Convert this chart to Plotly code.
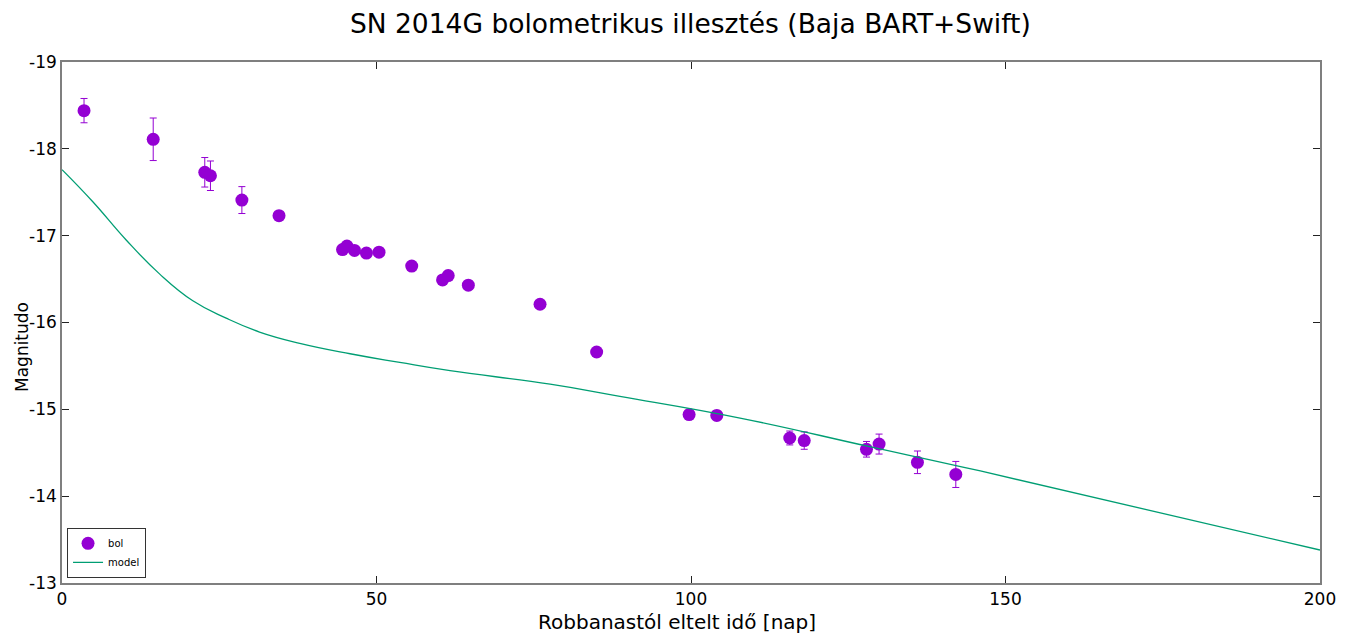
import plotly.graph_objects as go

# Observed bolometric magnitudes
days = [3.5, 14.5, 22.7, 23.6, 28.6, 34.5, 44.6, 45.3, 46.5, 48.4, 50.4, 55.6,
        60.5, 61.4, 64.6, 76.0, 85.0, 99.7, 104.1, 115.7, 118.0, 127.9, 129.9,
        136.0, 142.1]
mag = [-18.44, -18.11, -17.73, -17.69, -17.41, -17.23, -16.84, -16.88, -16.83,
       -16.80, -16.81, -16.65, -16.49, -16.54, -16.43, -16.21, -15.66, -14.94,
       -14.93, -14.67, -14.64, -14.54, -14.60, -14.39, -14.25]
mag_err = [0.14, 0.245, 0.17, 0.17, 0.155, 0.04, 0.04, 0.04, 0.04, 0.04, 0.04,
           0.04, 0.04, 0.04, 0.04, 0.04, 0.04, 0.05, 0.05, 0.08, 0.10, 0.09,
           0.115, 0.13, 0.15]

# Model curve
model_days = [0, 4.9, 10.2, 15.5, 20.8, 26.1, 31.4, 37.8, 45.8, 53.7, 61.7,
              77.6, 88.7, 107.8, 128.4, 146.0, 200]
model_mag = [-17.76, -17.39, -16.95, -16.56, -16.25, -16.05, -15.89, -15.76,
             -15.64, -15.54, -15.445, -15.29, -15.15, -14.90, -14.57, -14.29,
             -13.38]

x_ticks = [0, 50, 100, 150, 200]
y_ticks = [-19, -18, -17, -16, -15, -14, -13]
y_tick_labels = ["-19", "-18", "-17", "-16", "-15", "-14", "-13"]

FONT = "DejaVu Sans"

fig = go.Figure()
fig.add_trace(go.Scatter(
    x=days, y=mag, mode="markers", name="bol",
    marker=dict(color="#9400d3", size=13),
    error_y=dict(type="data", array=mag_err, visible=True, color="#9400d3",
                 thickness=1, width=3.5),
))
fig.add_trace(go.Scatter(
    x=model_days, y=model_mag, mode="lines", name="model",
    line=dict(color="#009e73", width=1.3, shape="spline", smoothing=1.3),
))

fig.update_layout(
    width=1351, height=636,
    margin=dict(l=62, r=31, t=62, b=53, autoexpand=False),
    paper_bgcolor="white", plot_bgcolor="white",
    font=dict(family=FONT, color="black", size=15),
    title=dict(text="SN 2014G bolometrikus illesztés (Baja BART+Swift)",
               x=0.511, xanchor="center", y=1 - 24 / 636, yanchor="middle",
               yref="container", font=dict(size=26.5, family=FONT)),
    showlegend=True,
    legend=dict(x=0.004, y=0.01, xanchor="left", yanchor="bottom",
                bordercolor="#333333", borderwidth=1, bgcolor="white",
                font=dict(size=10, family=FONT), tracegroupgap=0,
                itemwidth=30),
    annotations=[
        dict(text="Robbanastól eltelt idő [nap]", xref="paper", yref="paper",
             x=(677 - 62) / 1258, y=-(622 - 583) / 521, xanchor="center",
             yanchor="middle", showarrow=False,
             font=dict(size=20, family=FONT)),
        dict(text="Magnitudo", xref="paper", yref="paper",
             x=-(62 - 22) / 1258, y=(583 - 347) / 521, xanchor="center",
             yanchor="middle", showarrow=False, textangle=-90,
             font=dict(size=17, family=FONT)),
    ],
)
fig.update_xaxes(
    range=[0, 200], tickvals=x_ticks, automargin=False,
    showgrid=False, zeroline=False,
    showline=True, linecolor="#7f7f7f", linewidth=1.5, mirror="ticks",
    ticks="inside", ticklen=7, tickcolor="#222222",
    tickfont=dict(size=17, family=FONT),
)
fig.update_yaxes(
    range=[-13, -19], tickvals=y_ticks, ticktext=y_tick_labels, automargin=False,
    showgrid=False, zeroline=False,
    showline=True, linecolor="#7f7f7f", linewidth=1.5, mirror="ticks",
    ticks="inside", ticklen=7, tickcolor="#222222",
    tickfont=dict(size=17, family=FONT),
)

fig.write_html("out.html")
